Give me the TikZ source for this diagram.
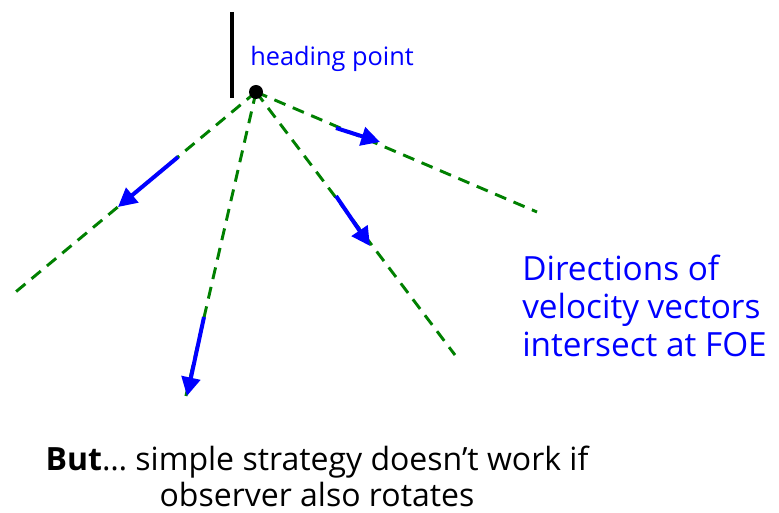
\documentclass[tikz,border=0pt]{standalone}
\usepackage{fontspec}
\setmainfont{Open Sans}
\usetikzlibrary{arrows.meta}
\definecolor{dgreen}{RGB}{0,128,0}
\begin{document}
\begin{tikzpicture}[x=0.75pt,y=-0.75pt,
  ray/.style={dgreen,line width=2.2pt,dash pattern=on 9pt off 6pt},
  vel/.style={blue,line width=3pt,-{Triangle[length=14pt,width=14pt]}},
  lbl/.style={blue,font=\fontsize{25}{28.5}\selectfont,align=left,inner sep=0pt}]
\useasboundingbox (0,0) rectangle (779,513);
\coordinate (h) at (256,92);
\coordinate (e1) at (12,295);
\coordinate (e2) at (185,400);
\coordinate (e3) at (455,355);
\coordinate (e4) at (537,212);
\coordinate (lt) at (232,12);
\coordinate (lb) at (232,98);
\draw[line width=2.6pt] (lt) -- (lb);
\foreach \e in {e1,e2,e3,e4} \draw[ray] (h) -- (\e);
\fill (h) circle (7);
\coordinate (a1s) at (178,157); \coordinate (a1e) at (118,207);
\coordinate (a2s) at (204,317); \coordinate (a2e) at (187,396);
\coordinate (a3s) at (336,196); \coordinate (a3e) at (370,246);
\coordinate (a4s) at (336,128); \coordinate (a4e) at (380,142);
\draw[vel] (a1s) -- (a1e);
\draw[vel] (a2s) -- (a2e);
\draw[vel] (a3s) -- (a3e);
\draw[vel] (a4s) -- (a4e);
\node[blue,anchor=base west,inner sep=0pt,font=\fontsize{19}{22}\selectfont] (hp) at (250,66) {heading point};
\node[lbl,anchor=base west] (dir) at (522,357) {Directions of\\velocity vectors\\intersect at FOE};
\node[align=center,anchor=base,inner sep=0pt,font=\fontsize{24}{26.5}\selectfont] (but) at (317,506) {\textbf{But}\dots{} simple strategy doesn’t work if\\observer also rotates};
\end{tikzpicture}
\end{document}
